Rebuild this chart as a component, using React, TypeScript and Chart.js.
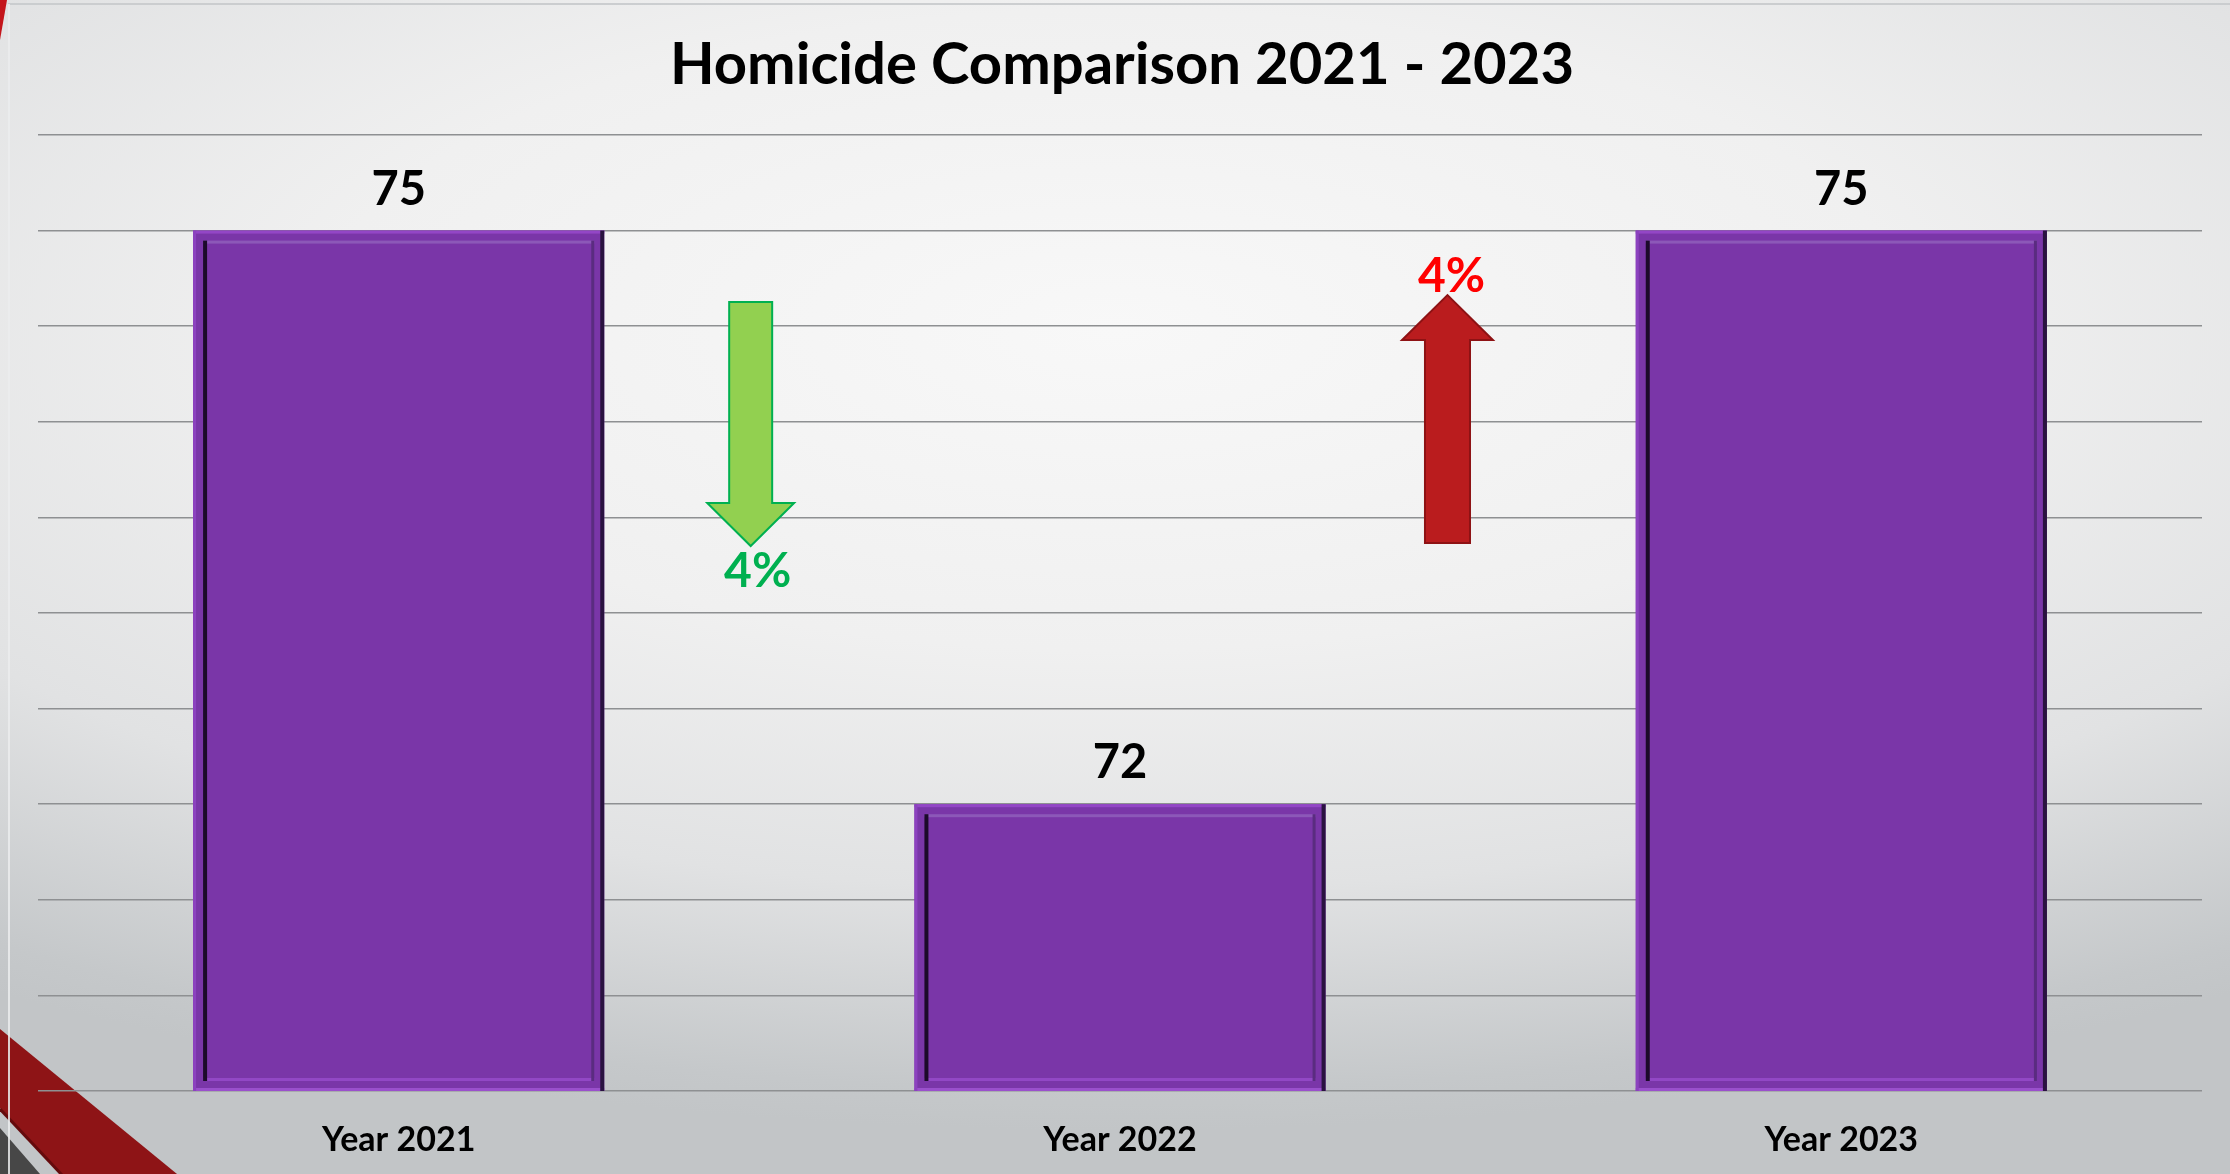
import React, { useEffect, useRef } from "react";
import { Chart, registerables } from "chart.js";

Chart.register(...registerables);

// ---- data ----
const chartTitle = "Homicide Comparison 2021 - 2023";
const categories = ["Year 2021", "Year 2022", "Year 2023"];
const homicides = [75, 72, 75];
const yMin = 70.5;
const yMax = 75.5;
const yStep = 0.5;

const FONT = "Lato, 'Open Sans', sans-serif";
const W = 2230;
const H = 1174;

// annotation arrows for each year-to-year change (positions in scale units)
const arrowLayout = [
  { x: 0.488, shaftHalf: 0.0298, headHalf: 0.0602, tail: 74.627, headBase: 73.575, tip: 73.35, labelY: 73.136 },
  { x: 1.454, shaftHalf: 0.0312, headHalf: 0.063, tail: 73.366, headBase: 74.428, tip: 74.663, labelY: 74.679 },
];

const backgroundPlugin = {
  id: "slideBackground",
  beforeDraw(chart: any) {
    const ctx = chart.ctx as CanvasRenderingContext2D;
    const cx = 1115, cy = 330, rx = 2000, ry = 800;
    const sx = rx / ry;
    ctx.save();
    ctx.translate(cx, cy);
    ctx.scale(sx, 1);
    const g = ctx.createRadialGradient(0, 0, 0, 0, 0, ry);
    g.addColorStop(0, "#F8F8F8");
    g.addColorStop(0.4, "#F0F0F0");
    g.addColorStop(0.7, "#E1E2E3");
    g.addColorStop(0.95, "#C5C8CA");
    g.addColorStop(1, "#C2C5C7");
    ctx.fillStyle = g;
    ctx.fillRect(-cx / sx, -cy, W / sx, H);
    ctx.restore();

    ctx.save();
    // top-left red sliver
    ctx.fillStyle = "#C4161C";
    ctx.beginPath();
    ctx.moveTo(0, 0);
    ctx.lineTo(7, 0);
    ctx.lineTo(0, 40);
    ctx.closePath();
    ctx.fill();
    // bottom-left decoration
    ctx.fillStyle = "#474747";
    ctx.beginPath();
    ctx.moveTo(0, 1128);
    ctx.lineTo(40, 1174);
    ctx.lineTo(0, 1174);
    ctx.closePath();
    ctx.fill();
    ctx.fillStyle = "#8E1416";
    ctx.beginPath();
    ctx.moveTo(0, 1029);
    ctx.lineTo(177, 1174);
    ctx.lineTo(62, 1174);
    ctx.lineTo(0, 1108);
    ctx.closePath();
    ctx.fill();
    ctx.strokeStyle = "#650A0C";
    ctx.lineWidth = 3;
    ctx.beginPath();
    ctx.moveTo(0, 1109);
    ctx.lineTo(62, 1175);
    ctx.stroke();
    // frame lines
    ctx.strokeStyle = "rgba(200,202,204,0.9)";
    ctx.lineWidth = 2;
    ctx.beginPath();
    ctx.moveTo(8, 4);
    ctx.lineTo(W, 4);
    ctx.stroke();
    ctx.strokeStyle = "rgba(235,236,237,0.85)";
    ctx.beginPath();
    ctx.moveTo(9, 4);
    ctx.lineTo(9, H);
    ctx.stroke();
    ctx.restore();
  },
};

const titlePlugin = {
  id: "slideTitle",
  afterDraw(chart: any) {
    const ctx = chart.ctx as CanvasRenderingContext2D;
    const { left, right } = chart.chartArea;
    ctx.save();
    ctx.font = `bold 58px ${FONT}`;
    ctx.fillStyle = "#000000";
    ctx.textAlign = "center";
    ctx.textBaseline = "alphabetic";
    ctx.fillText(chartTitle, (left + right) / 2 + 2, 84);
    ctx.restore();
  },
};

const bevelPlugin = {
  id: "barBevel",
  afterDatasetsDraw(chart: any) {
    const ctx = chart.ctx as CanvasRenderingContext2D;
    const area = chart.chartArea;
    const meta = chart.getDatasetMeta(0);
    const rect = (x: number, y: number, w: number, h: number, c: string) => {
      ctx.fillStyle = c;
      ctx.fillRect(x, y, w, h);
    };
    ctx.save();
    meta.data.forEach((bar: any) => {
      const p = bar.getProps(["x", "y", "base", "width"], true);
      const l = p.x - p.width / 2;
      const r = p.x + p.width / 2;
      const t = Math.max(Math.min(p.y, p.base), area.top);
      const b = Math.min(Math.max(p.y, p.base), area.bottom);
      const w = r - l;
      const h = b - t;
      // outer edges
      rect(l, t, w, 3, "#9346C6");
      rect(l, b - 3, w, 3, "#9A50CC");
      rect(l, t, 3, h, "#8C42BF");
      rect(r - 4, t, 4, h, "#2A1240");
      // inner frame
      const ins = 10;
      rect(l + ins, t + ins, w - 2 * ins, 3, "#8C58B8");
      rect(l + ins, b - ins - 3, w - 2 * ins, 3, "#9248C5");
      rect(r - ins - 3, t + ins, 3, h - 2 * ins, "#5A2C80");
      rect(l + ins, t + ins, 4, h - 2 * ins, "#1C0A2A");
    });
    ctx.restore();
  },
};

const labelPlugin = {
  id: "valueLabels",
  afterDraw(chart: any) {
    const ctx = chart.ctx as CanvasRenderingContext2D;
    const xs = chart.scales.x;
    const ys = chart.scales.y;
    const meta = chart.getDatasetMeta(0);
    ctx.save();
    ctx.textAlign = "center";
    ctx.textBaseline = "alphabetic";
    ctx.font = `bold 47px ${FONT}`;
    ctx.fillStyle = "#000000";
    meta.data.forEach((bar: any, i: number) => {
      ctx.fillText(String(homicides[i]), bar.x, bar.y - 26);
    });

    // change arrows
    arrowLayout.forEach((a, i) => {
      const from = homicides[i];
      const to = homicides[i + 1];
      const down = to < from;
      const pct = Math.round((Math.abs(to - from) / from) * 100) + "%";
      const cx = xs.getPixelForValue(a.x);
      const unit = xs.getPixelForValue(1) - xs.getPixelForValue(0);
      const sh = a.shaftHalf * unit;
      const hh = a.headHalf * unit;
      const yTail = ys.getPixelForValue(a.tail);
      const yBase = ys.getPixelForValue(a.headBase);
      const yTip = ys.getPixelForValue(a.tip);
      ctx.beginPath();
      ctx.moveTo(cx - sh, yTail);
      ctx.lineTo(cx + sh, yTail);
      ctx.lineTo(cx + sh, yBase);
      ctx.lineTo(cx + hh, yBase);
      ctx.lineTo(cx, yTip);
      ctx.lineTo(cx - hh, yBase);
      ctx.lineTo(cx - sh, yBase);
      ctx.closePath();
      ctx.fillStyle = down ? "#92D050" : "#BA1C1E";
      ctx.fill();
      ctx.lineWidth = 2;
      ctx.lineJoin = "miter";
      ctx.strokeStyle = down ? "#00B050" : "#8E1214";
      ctx.stroke();
      ctx.font = `bold 48px ${FONT}`;
      ctx.fillStyle = down ? "#00B050" : "#FF0000";
      ctx.fillText(pct, cx + (down ? 7 : 4), ys.getPixelForValue(a.labelY));
    });
    ctx.restore();
  },
};

export default function App() {
  const ref = useRef<HTMLCanvasElement | null>(null);
  useEffect(() => {
    document.body.style.margin = "0";
    const canvas = ref.current;
    if (!canvas) return;
    const chart = new Chart(canvas, {
      type: "bar",
      data: {
        labels: categories,
        datasets: [
          {
            label: "Homicides",
            data: homicides,
            backgroundColor: "#7A36A8",
            borderWidth: 0,
            barPercentage: 0.57,
            categoryPercentage: 1.0,
          },
        ],
      },
      options: {
        responsive: false,
        animation: false,
        devicePixelRatio: 1,
        layout: { padding: { top: 135, left: 38, right: 28, bottom: 8 } },
        plugins: {
          legend: { display: false },
          tooltip: { enabled: false },
          title: { display: false },
        },
        scales: {
          x: {
            grid: { display: false, drawTicks: false },
            border: { display: false },
            afterFit(scale: any) {
              scale.height = 75;
            },
            ticks: {
              padding: 29,
              color: "#000000",
              font: { family: FONT, size: 34, weight: "bold" },
            },
          },
          y: {
            min: yMin,
            max: yMax,
            grid: { color: "#8E9092", lineWidth: 1.5, drawTicks: false },
            border: { display: false },
            ticks: { display: false, stepSize: yStep },
          },
        },
      },
      plugins: [backgroundPlugin, bevelPlugin, labelPlugin, titlePlugin],
    });
    return () => chart.destroy();
  }, []);
  return (
    <canvas
      ref={ref}
      width={W}
      height={H}
      style={{ display: "block", width: W + "px", height: H + "px" }}
    />
  );
}
